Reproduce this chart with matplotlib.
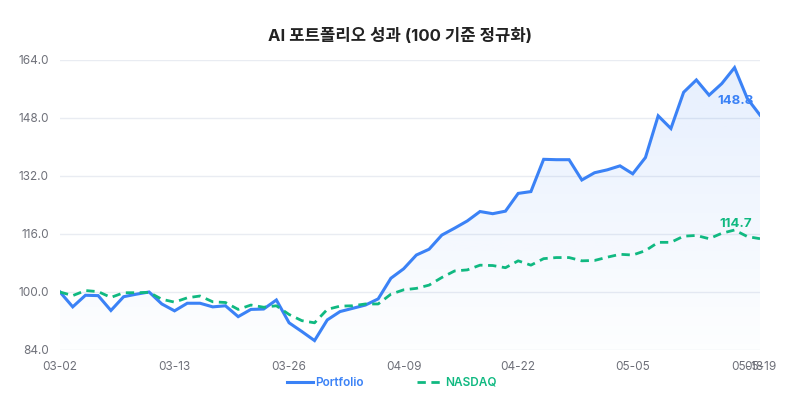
import numpy as np
import matplotlib.pyplot as plt
from matplotlib.patches import Polygon

plt.rcParams['font.family'] = ['Inter', 'Noto Sans CJK KR', 'DejaVu Sans']

dates = ['03-02', '03-03', '03-04', '03-05', '03-06',
         '03-09', '03-10', '03-11', '03-12', '03-13',
         '03-16', '03-17', '03-18', '03-19', '03-20',
         '03-23', '03-24', '03-25', '03-26', '03-27',
         '03-30', '03-31', '04-01', '04-02',
         '04-06', '04-07', '04-08', '04-09', '04-10',
         '04-13', '04-14', '04-15', '04-16', '04-17',
         '04-20', '04-21', '04-22', '04-23', '04-24',
         '04-27', '04-28', '04-29', '04-30', '05-01',
         '05-04', '05-05', '05-06', '05-07', '05-08',
         '05-11', '05-12', '05-13', '05-14', '05-15',
         '05-18', '05-19']

portfolio = [100.0, 95.9, 99.1, 99.0, 94.9, 98.7, 99.4, 100.0, 96.7, 94.8,
             96.9, 96.9, 95.9, 96.2, 93.2, 95.2, 95.3, 97.8, 91.5, 89.1,
             86.6, 92.3, 94.6, 95.5, 96.4, 98.1, 103.8, 106.4, 110.2, 111.8,
             115.7, 117.6, 119.6, 122.2, 121.6, 122.3, 127.2, 127.7, 136.6, 136.5,
             136.5, 130.9, 132.9, 133.7, 134.8, 132.6, 137.1, 148.6, 145.1, 155.1,
             158.5, 154.3, 157.5, 161.9, 153.4, 148.8]

nasdaq = [100.0, 99.0, 100.4, 100.1, 98.5, 99.8, 99.8, 99.9, 98.0, 97.2,
          98.4, 98.9, 97.3, 97.1, 95.2, 96.4, 95.8, 96.2, 93.8, 92.1,
          91.5, 95.2, 96.1, 96.2, 96.7, 96.7, 99.4, 100.6, 101.0, 101.9,
          104.0, 105.8, 106.1, 107.4, 107.3, 106.7, 108.6, 107.4, 109.2, 109.5,
          109.5, 108.6, 108.7, 109.6, 110.4, 110.2, 111.4, 113.7, 113.7, 115.4,
          115.6, 114.7, 116.2, 117.1, 115.3, 114.7]

tick_idx = [0, 9, 18, 27, 36, 45, 54, 55]
yticks = [84, 100, 116, 132, 148, 164]

blue = '#3b82f6'
green = '#10b981'

x = np.arange(len(dates))

fig = plt.figure(figsize=(8, 4), dpi=100)
ax = fig.add_axes([0.075, 0.125, 0.875, 0.725])

# gradient area under the portfolio line
grad = np.zeros((100, 1, 4))
grad[:, 0, :3] = [0x3b / 255, 0x82 / 255, 0xf6 / 255]
grad[:, 0, 3] = np.linspace(0.13, 0.01, 100)
img = ax.imshow(grad, aspect='auto', extent=[0, len(dates) - 1, 84, 164],
                origin='upper', zorder=1)
verts = list(zip(x, portfolio)) + [(x[-1], 84), (0, 84)]
poly = Polygon(verts, closed=True, facecolor='none', edgecolor='none')
ax.add_patch(poly)
img.set_clip_path(poly)

ax.plot(x, portfolio, color=blue, lw=2.2, label='Portfolio', zorder=3,
        solid_joinstyle='miter')
ax.plot(x, nasdaq, color=green, lw=2.0, ls=(0, (3, 2)), label='NASDAQ', zorder=3)

ax.annotate(f'{portfolio[-1]:.1f}', (x[-1], portfolio[-1]), xytext=(-24, 14),
            textcoords='offset pixels', ha='center', va='center',
            color=blue, fontsize=9.5, fontweight='bold', zorder=4)
ax.annotate(f'{nasdaq[-1]:.1f}', (x[-1], nasdaq[-1]), xytext=(-24, 15),
            textcoords='offset pixels', ha='center', va='center',
            color=green, fontsize=9.5, fontweight='bold', zorder=4)

ax.set_xlim(0, len(dates) - 1)
ax.set_ylim(84, 164)
ax.set_yticks(yticks)
ax.set_yticklabels([f'{v:.1f}' for v in yticks])
ax.set_xticks(tick_idx)
ax.set_xticklabels([dates[i] for i in tick_idx])
ax.tick_params(length=0, labelsize=8.5, labelcolor='#6e7079', pad=8)
ax.grid(axis='y', color='#e9ecf2', lw=1)
ax.set_axisbelow(True)
for s in ax.spines.values():
    s.set_visible(False)

fig.suptitle('AI 포트폴리오 성과 (100 기준 정규화)', y=0.93, fontsize=12,
             fontweight='bold', color='#222222')
fig.legend(loc='center', bbox_to_anchor=(0.49, 0.043), ncol=2, frameon=False,
           fontsize=8.5, labelcolor='linecolor', handlelength=2.2,
           handletextpad=0.2, columnspacing=4.5,
           prop={'weight': 'semibold', 'size': 8.5})

plt.savefig('out.png', dpi=100)
